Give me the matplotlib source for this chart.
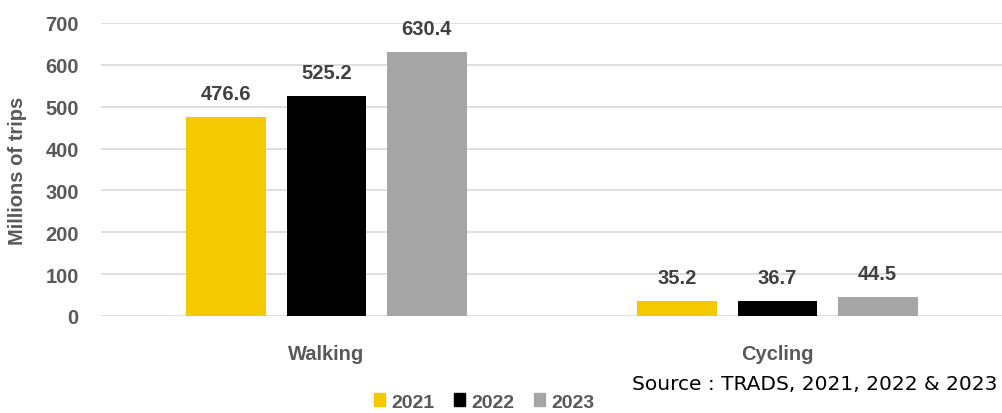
import matplotlib.pyplot as plt
import numpy as np
from matplotlib.patches import Patch

categories = ["Walking", "Cycling"]
years = ["2021", "2022", "2023"]
trips_2021 = [476.6, 35.2]
trips_2022 = [525.2, 36.7]
trips_2023 = [630.4, 44.5]

colors = ["#F5C900", "#000000", "#A5A5A5"]
series = [trips_2021, trips_2022, trips_2023]

plt.rcParams["font.family"] = ["Liberation Sans", "DejaVu Sans"]

fig = plt.figure(figsize=(10.03, 4.14), dpi=100)
ax = fig.add_axes([101 / 1003, 1 - 317 / 414, 902 / 1003, 293 / 414])

x = np.arange(len(categories))
width = 0.177
step = 0.222
for i, (vals, col) in enumerate(zip(series, colors)):
    pos = x + (i - 1) * step
    ax.bar(pos, vals, width=width, color=col, zorder=3)
    for p, v in zip(pos, vals):
        ax.annotate(f"{v:.1f}", (p, v), xytext=(0, 10), textcoords="offset points",
                    ha="center", va="bottom", fontsize=14.5, fontweight="bold",
                    color="#404040")

ax.set_xlim(-0.5, 1.5)
ax.set_ylim(0, 700)
ax.set_yticks(range(0, 701, 100))
ax.grid(axis="y", color="#D9D9D9", linewidth=1.2, zorder=0)
ax.set_xticks(x)
ax.set_xticklabels(categories)
ax.tick_params(axis="both", length=0, labelsize=14.5, labelcolor="#595959")
ax.tick_params(axis="x", pad=20)
ax.tick_params(axis="y", pad=16)
for lab in ax.get_xticklabels() + ax.get_yticklabels():
    lab.set_fontweight("bold")
for s in ax.spines.values():
    s.set_visible(False)

ax.set_ylabel("Millions of trips", fontsize=14.5, fontweight="bold", color="#595959")
ax.yaxis.set_label_coords(-0.082, 0.5)

handles = [Patch(color=c) for c in colors]
leg = fig.legend(handles, years, loc="center", bbox_to_anchor=(484 / 1003, 1 - 403 / 414),
                 ncol=3, frameon=False, handlelength=0.6, handleheight=0.6,
                 handletextpad=0.3, columnspacing=1.0, borderpad=0,
                 prop={"size": 14, "weight": "bold"})
for t in leg.get_texts():
    t.set_color("#595959")

fig.text(997 / 1003, 1 - 385 / 414, "Source : TRADS, 2021, 2022 & 2023",
         ha="right", va="center", fontsize=14.5, color="#000000",
         family="DejaVu Sans")

fig.savefig("out.png", dpi=100)
